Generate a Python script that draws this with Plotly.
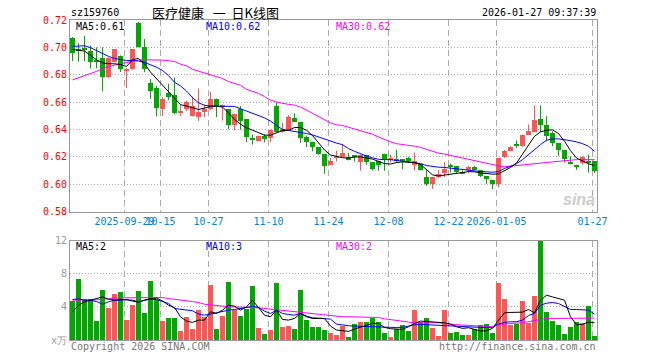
import plotly.graph_objects as go

# ---------------- data ----------------
dates = [
    "2025-09-16", "2025-09-17", "2025-09-18", "2025-09-19", "2025-09-22", "2025-09-23", "2025-09-24", "2025-09-25",
    "2025-09-26", "2025-09-29", "2025-09-30", "2025-10-09", "2025-10-10", "2025-10-13", "2025-10-14", "2025-10-15",
    "2025-10-16", "2025-10-17", "2025-10-20", "2025-10-21", "2025-10-22", "2025-10-23", "2025-10-24", "2025-10-27",
    "2025-10-28", "2025-10-29", "2025-10-30", "2025-10-31", "2025-11-03", "2025-11-04", "2025-11-05", "2025-11-06",
    "2025-11-07", "2025-11-10", "2025-11-11", "2025-11-12", "2025-11-13", "2025-11-14", "2025-11-17", "2025-11-18",
    "2025-11-19", "2025-11-20", "2025-11-21", "2025-11-24", "2025-11-25", "2025-11-26", "2025-11-27", "2025-11-28",
    "2025-12-01", "2025-12-02", "2025-12-03", "2025-12-04", "2025-12-05", "2025-12-08", "2025-12-09", "2025-12-10",
    "2025-12-11", "2025-12-12", "2025-12-15", "2025-12-16", "2025-12-17", "2025-12-18", "2025-12-19", "2025-12-22",
    "2025-12-23", "2025-12-24", "2025-12-25", "2025-12-26", "2025-12-29", "2025-12-30", "2025-12-31", "2026-01-05",
    "2026-01-06", "2026-01-07", "2026-01-08", "2026-01-09", "2026-01-12", "2026-01-13", "2026-01-14", "2026-01-15",
    "2026-01-16", "2026-01-19", "2026-01-20", "2026-01-21", "2026-01-22", "2026-01-23", "2026-01-26", "2026-01-27",
]

opens = [
    0.7070, 0.6978, 0.6990, 0.6975, 0.6897, 0.6920, 0.6781, 0.6893, 0.6937, 0.6828,
    0.6842, 0.7180, 0.7002, 0.6738, 0.6704, 0.6550, 0.6668, 0.6650, 0.6522, 0.6547,
    0.6500, 0.6490, 0.6527, 0.6546, 0.6625, 0.6567, 0.6546, 0.6431, 0.6551, 0.6473,
    0.6328, 0.6313, 0.6355, 0.6338, 0.6571, 0.6388, 0.6399, 0.6485, 0.6456, 0.6348,
    0.6311, 0.6272, 0.6223, 0.6142, 0.6191, 0.6201, 0.6196, 0.6213, 0.6159, 0.6213,
    0.6159, 0.6171, 0.6223, 0.6174, 0.6183, 0.6183, 0.6188, 0.6139, 0.6146, 0.6051,
    0.6002, 0.6051, 0.6085, 0.6141, 0.6134, 0.6090, 0.6100, 0.6122, 0.6105, 0.6056,
    0.6031, 0.6002, 0.6197, 0.6245, 0.6290, 0.6278, 0.6362, 0.6380, 0.6478, 0.6436,
    0.6375, 0.6301, 0.6247, 0.6156, 0.6142, 0.6154, 0.6172, 0.6166,
]
highs = [
    0.7075, 0.7030, 0.7084, 0.7012, 0.7000, 0.7000, 0.6926, 0.6985, 0.6941, 0.6850,
    0.6985, 0.7185, 0.7060, 0.6768, 0.6717, 0.6634, 0.6735, 0.6780, 0.6580, 0.6610,
    0.6640, 0.6699, 0.6583, 0.6676, 0.6625, 0.6583, 0.6546, 0.6510, 0.6571, 0.6473,
    0.6363, 0.6355, 0.6365, 0.6399, 0.6596, 0.6449, 0.6504, 0.6517, 0.6456, 0.6355,
    0.6311, 0.6272, 0.6223, 0.6191, 0.6245, 0.6294, 0.6228, 0.6213, 0.6216, 0.6213,
    0.6159, 0.6172, 0.6223, 0.6216, 0.6251, 0.6183, 0.6200, 0.6232, 0.6146, 0.6104,
    0.6051, 0.6104, 0.6161, 0.6150, 0.6134, 0.6100, 0.6134, 0.6134, 0.6105, 0.6060,
    0.6031, 0.6193, 0.6250, 0.6278, 0.6320, 0.6362, 0.6436, 0.6576, 0.6576, 0.6497,
    0.6387, 0.6301, 0.6247, 0.6203, 0.6142, 0.6203, 0.6215, 0.6166,
]
lows = [
    0.6900, 0.6895, 0.6900, 0.6846, 0.6846, 0.6680, 0.6777, 0.6890, 0.6820, 0.6702,
    0.6836, 0.7000, 0.6818, 0.6624, 0.6495, 0.6498, 0.6613, 0.6510, 0.6497, 0.6535,
    0.6495, 0.6461, 0.6490, 0.6541, 0.6490, 0.6465, 0.6404, 0.6395, 0.6399, 0.6306,
    0.6289, 0.6313, 0.6306, 0.6306, 0.6375, 0.6375, 0.6399, 0.6456, 0.6301, 0.6272,
    0.6240, 0.6215, 0.6076, 0.6142, 0.6166, 0.6196, 0.6174, 0.6166, 0.6098, 0.6142,
    0.6100, 0.6098, 0.6098, 0.6159, 0.6154, 0.6109, 0.6154, 0.6100, 0.6100, 0.5987,
    0.5965, 0.6046, 0.6051, 0.6085, 0.6075, 0.6075, 0.6080, 0.6100, 0.6051, 0.6002,
    0.5965, 0.5977, 0.6192, 0.6245, 0.6265, 0.6274, 0.6362, 0.6380, 0.6380, 0.6313,
    0.6277, 0.6208, 0.6159, 0.6149, 0.6105, 0.6142, 0.6085, 0.6081,
]
closes = [
    0.6960, 0.6974, 0.6982, 0.6893, 0.6894, 0.6783, 0.6922, 0.6985, 0.6843, 0.6832,
    0.6985, 0.7002, 0.6843, 0.6680, 0.6557, 0.6622, 0.6640, 0.6517, 0.6527, 0.6600,
    0.6569, 0.6527, 0.6546, 0.6625, 0.6571, 0.6576, 0.6431, 0.6510, 0.6461, 0.6345,
    0.6325, 0.6355, 0.6331, 0.6394, 0.6380, 0.6400, 0.6490, 0.6456, 0.6336, 0.6306,
    0.6272, 0.6223, 0.6135, 0.6171, 0.6208, 0.6228, 0.6179, 0.6199, 0.6216, 0.6159,
    0.6112, 0.6137, 0.6174, 0.6191, 0.6171, 0.6171, 0.6166, 0.6166, 0.6104, 0.6002,
    0.6051, 0.6075, 0.6114, 0.6129, 0.6092, 0.6080, 0.6122, 0.6105, 0.6056, 0.6036,
    0.6002, 0.6193, 0.6245, 0.6275, 0.6286, 0.6362, 0.6387, 0.6468, 0.6436, 0.6350,
    0.6301, 0.6247, 0.6183, 0.6153, 0.6125, 0.6196, 0.6159, 0.6093,
]
ma5 = [
    0.6985, 0.6980, 0.6973, 0.6941, 0.6909, 0.6887, 0.6880, 0.6880, 0.6875, 0.6860,
    0.6909, 0.6919, 0.6880, 0.6819, 0.6770, 0.6721, 0.6679, 0.6630, 0.6581, 0.6571,
    0.6556, 0.6546, 0.6556, 0.6568, 0.6571, 0.6563, 0.6522, 0.6473, 0.6439, 0.6412,
    0.6395, 0.6375, 0.6358, 0.6358, 0.6375, 0.6392, 0.6394, 0.6414, 0.6414, 0.6394,
    0.6355, 0.6300, 0.6250, 0.6213, 0.6203, 0.6193, 0.6190, 0.6198, 0.6200, 0.6193,
    0.6183, 0.6166, 0.6150, 0.6147, 0.6158, 0.6163, 0.6161, 0.6158, 0.6144, 0.6109,
    0.6068, 0.6060, 0.6065, 0.6075, 0.6080, 0.6085, 0.6092, 0.6090, 0.6082, 0.6075,
    0.6073, 0.6075, 0.6098, 0.6122, 0.6154, 0.6220, 0.6289, 0.6350, 0.6382, 0.6394,
    0.6397, 0.6370, 0.6314, 0.6245, 0.6191, 0.6167, 0.6149, 0.6135,
]
ma10 = [
    0.7007, 0.7010, 0.7012, 0.6998, 0.6978, 0.6953, 0.6934, 0.6919, 0.6909, 0.6904,
    0.6904, 0.6900, 0.6890, 0.6875, 0.6855, 0.6831, 0.6794, 0.6745, 0.6718, 0.6681,
    0.6632, 0.6595, 0.6576, 0.6571, 0.6571, 0.6571, 0.6571, 0.6568, 0.6551, 0.6534,
    0.6522, 0.6502, 0.6485, 0.6461, 0.6429, 0.6400, 0.6393, 0.6387, 0.6380, 0.6370,
    0.6360, 0.6345, 0.6330, 0.6313, 0.6300, 0.6289, 0.6260, 0.6240, 0.6220, 0.6205,
    0.6192, 0.6182, 0.6179, 0.6179, 0.6173, 0.6168, 0.6163, 0.6158, 0.6151, 0.6136,
    0.6129, 0.6124, 0.6122, 0.6117, 0.6112, 0.6104, 0.6100, 0.6097, 0.6092, 0.6090,
    0.6087, 0.6092, 0.6115, 0.6130, 0.6149, 0.6179, 0.6216, 0.6257, 0.6289, 0.6321,
    0.6331, 0.6331, 0.6326, 0.6318, 0.6309, 0.6296, 0.6277, 0.6240,
]
ma30 = [
    0.6762, 0.6777, 0.6792, 0.6806, 0.6824, 0.6843, 0.6860, 0.6870, 0.6880, 0.6890,
    0.6900, 0.6907, 0.6909, 0.6909, 0.6909, 0.6907, 0.6902, 0.6897, 0.6877, 0.6865,
    0.6840, 0.6826, 0.6816, 0.6801, 0.6787, 0.6772, 0.6750, 0.6738, 0.6723, 0.6693,
    0.6676, 0.6664, 0.6640, 0.6615, 0.6600, 0.6590, 0.6583, 0.6578, 0.6563, 0.6541,
    0.6517, 0.6490, 0.6470, 0.6448, 0.6434, 0.6429, 0.6416, 0.6404, 0.6392, 0.6380,
    0.6365, 0.6345, 0.6326, 0.6309, 0.6296, 0.6288, 0.6283, 0.6278, 0.6269, 0.6254,
    0.6239, 0.6227, 0.6220, 0.6210, 0.6202, 0.6193, 0.6183, 0.6171, 0.6161, 0.6151,
    0.6141, 0.6134, 0.6127, 0.6132, 0.6137, 0.6142, 0.6147, 0.6149, 0.6154, 0.6159,
    0.6164, 0.6167, 0.6171, 0.6176, 0.6179, 0.6179, 0.6179, 0.6179,
]
volumes = [  # 万手
    4.8, 7.44, 5.0, 5.0, 2.4, 6.08, 3.88, 5.6, 5.88, 2.52,
    4.32, 6.0, 3.36, 7.2, 4.92, 2.4, 2.72, 2.72, 1.2, 2.88,
    1.44, 3.72, 2.8, 6.72, 1.44, 3.0, 7.08, 3.72, 3.0, 3.8,
    6.6, 1.56, 0.84, 1.32, 6.96, 1.68, 1.8, 1.44, 6.04, 2.52,
    1.64, 1.68, 1.32, 0.88, 0.72, 1.8, 0.4, 2.0, 2.28, 2.28,
    2.68, 2.2, 0.96, 0.4, 1.36, 1.92, 1.2, 3.72, 2.28, 2.76,
    1.48, 0.6, 3.64, 0.96, 1.08, 0.72, 0.72, 1.36, 1.92, 2.04,
    0.96, 6.88, 5.04, 1.92, 2.04, 4.8, 2.16, 5.4, 12.0, 3.48,
    2.4, 1.92, 0.84, 1.68, 2.28, 2.16, 4.2, 0.6,
]
vol_ma5 = [
    3.4, 4.2, 4.6, 4.8, 5.0, 5.2, 4.92, 4.8, 4.88, 4.88,
    4.8, 4.6, 4.8, 5.0, 5.04, 4.72, 4.2, 3.92, 2.8, 2.28,
    2.12, 2.4, 2.4, 3.4, 3.2, 3.6, 4.2, 4.08, 3.6, 4.0,
    4.8, 3.92, 3.0, 2.8, 3.6, 2.48, 2.4, 2.6, 3.2, 2.8,
    2.6, 2.6, 2.6, 1.68, 1.2, 1.12, 1.04, 1.32, 1.52, 1.8,
    2.0, 2.0, 1.52, 1.36, 1.28, 1.28, 1.6, 2.0, 2.28, 2.24,
    2.16, 2.08, 2.08, 1.92, 1.6, 1.4, 1.48, 1.28, 1.08, 1.12,
    1.4, 2.4, 3.28, 3.32, 3.32, 3.36, 3.68, 3.28, 4.8, 5.4,
    5.2, 5.04, 4.8, 2.8, 1.84, 1.88, 2.16, 2.08,
]
vol_ma10 = [
    4.88, 4.96, 4.8, 4.8, 4.64, 4.32, 4.6, 4.8, 4.8, 4.88,
    4.68, 4.56, 4.8, 4.92, 4.88, 4.64, 4.4, 3.8, 3.68, 3.6,
    3.52, 3.12, 3.0, 3.12, 3.28, 3.48, 3.6, 3.68, 3.76, 3.92,
    4.08, 3.92, 3.48, 3.2, 3.6, 3.2, 3.08, 3.0, 3.2, 2.88,
    2.68, 2.6, 2.56, 2.52, 1.92, 1.8, 1.72, 1.68, 1.64, 1.6,
    1.6, 1.6, 1.56, 1.52, 1.52, 1.52, 1.68, 1.84, 1.88, 1.84,
    1.76, 1.72, 1.68, 1.64, 1.6, 1.6, 1.6, 1.56, 1.52, 1.52,
    1.52, 1.92, 2.12, 2.2, 2.2, 2.4, 2.96, 3.2, 4.2, 4.44,
    4.52, 4.4, 4.0, 3.68, 3.68, 3.68, 3.6, 3.12,
]
vol_ma30 = [
    4.8, 4.84, 4.84, 4.84, 4.84, 4.88, 4.96, 5.08, 5.08, 5.08,
    5.08, 5.08, 5.08, 5.12, 5.12, 5.12, 5.0, 4.92, 4.88, 4.8,
    4.64, 4.52, 4.32, 4.24, 4.12, 4.08, 4.0, 4.0, 4.0, 4.0,
    3.92, 3.88, 3.8, 3.76, 3.72, 3.6, 3.52, 3.44, 3.4, 3.32,
    3.24, 3.16, 3.08, 3.0, 2.88, 2.8, 2.8, 2.8, 2.8, 2.8,
    2.8, 2.72, 2.56, 2.44, 2.36, 2.24, 2.16, 2.08, 2.08, 2.08,
    2.08, 2.08, 1.96, 1.88, 1.84, 1.8, 1.76, 1.72, 1.68, 1.64,
    1.6, 1.88, 1.96, 2.0, 2.04, 2.08, 2.2, 2.32, 2.48, 2.6,
    2.6, 2.6, 2.6, 2.6, 2.6, 2.6, 2.68, 2.64,
]
tick_dates = ["2025-09-29", "2025-10-15", "2025-10-27", "2025-11-10", "2025-11-24",
              "2025-12-08", "2025-12-22", "2026-01-05", "2026-01-27"]
tick_labels = ["2025-09-29", "10-15", "10-27", "11-10", "11-24", "12-08", "12-22", "2026-01-05", "01-27"]
price_ticks = [0.58, 0.60, 0.62, 0.64, 0.66, 0.68, 0.70, 0.72]
vol_ticks = [0, 4, 8, 12]
vol_tick_labels = ["x万", "4", "8", "12"]

# ---------------- styling ----------------
W, H = 660, 360
L, R, T, B = 70, 63, 20, 20
UP = "#ff5555"
DOWN = "#00a800"
MONO = "DejaVu Sans Mono"
GRIDC = "#aaaaaa"
BORDER = "#999999"

x = list(range(len(dates)))
xr = [-2.5 / 6, 524.5 / 6]          # 6 px per trading day
grid_x = [dates.index(d) - 1 / 3 for d in tick_dates]


def px(v):
    return (v - L) / (W - L - R)


def py(v):
    return (H - B - v) / (H - T - B)


is_up = [c > o for o, c in zip(opens, closes)]
MIN_BODY = 0.00074

fig = go.Figure()

for flag, col in ((True, UP), (False, DOWN)):
    idx = [i for i in x if is_up[i] == flag]
    fig.add_trace(go.Bar(
        x=idx,
        base=[min(opens[i], closes[i]) for i in idx],
        y=[max(abs(closes[i] - opens[i]), MIN_BODY) for i in idx],
        width=5 / 6, marker=dict(color=col, line=dict(width=0)),
        xaxis="x", yaxis="y", hoverinfo="skip"))
    wx, wy = [], []
    for i in idx:
        wx += [i, i, None]
        wy += [lows[i], highs[i], None]
    fig.add_trace(go.Scatter(x=wx, y=wy, mode="lines", line=dict(color=col, width=1),
                             xaxis="x", yaxis="y", hoverinfo="skip"))

for series, col in ((ma30, "#ff00ff"), (ma10, "#0000ff"), (ma5, "#000000")):
    fig.add_trace(go.Scatter(x=x, y=series, mode="lines", line=dict(color=col, width=1),
                             xaxis="x", yaxis="y", hoverinfo="skip"))

fig.add_trace(go.Bar(x=x, y=volumes, width=5 / 6,
                     marker=dict(color=[UP if u else DOWN for u in is_up], line=dict(width=0)),
                     xaxis="x2", yaxis="y2", hoverinfo="skip"))
for series, col in ((vol_ma30, "#ff00ff"), (vol_ma10, "#0000ff"), (vol_ma5, "#000000")):
    fig.add_trace(go.Scatter(x=x, y=series, mode="lines", line=dict(color=col, width=1),
                             xaxis="x2", yaxis="y2", hoverinfo="skip"))

axis_common = dict(showline=True, linecolor=BORDER, linewidth=1, mirror=True,
                   zeroline=False, ticks="", fixedrange=True)

fig.update_layout(
    width=W, height=H, margin=dict(l=L, r=R, t=T, b=B, pad=0),
    paper_bgcolor="white", plot_bgcolor="white",
    showlegend=False, barmode="overlay", bargap=0, hovermode=False,
    font=dict(family=MONO, size=10, color="#000"),
    xaxis=dict(domain=[0, 1], anchor="y", range=xr, tickmode="array",
               tickvals=grid_x, ticktext=tick_labels, tickangle=0,
               tickfont=dict(family=MONO, size=10, color="#0a80d0"),
               showgrid=True, gridcolor=GRIDC, griddash="6px,4px", gridwidth=1,
               **axis_common),
    yaxis=dict(domain=[py(211.5), 1], anchor="x", range=[0.58, 0.72], tickmode="array",
               tickvals=price_ticks, ticktext=["%.2f" % v for v in price_ticks],
               tickfont=dict(family=MONO, size=10, color="#ff0000"),
               showgrid=True, gridcolor=GRIDC, griddash="1px,2px", gridwidth=1,
               **axis_common),
    xaxis2=dict(domain=[0, 1], anchor="y2", range=xr, tickmode="array",
                tickvals=grid_x, showticklabels=False,
                showgrid=True, gridcolor=GRIDC, griddash="6px,4px", gridwidth=1,
                **axis_common),
    yaxis2=dict(domain=[0, py(240.5)], anchor="x2", range=[0, 12], tickmode="array",
                tickvals=vol_ticks, ticktext=vol_tick_labels,
                tickfont=dict(family=MONO, size=10, color="#999999"),
                showgrid=True, gridcolor=GRIDC, griddash="1px,2px", gridwidth=1,
                **axis_common),
)


def note(text, xp, yp, color="#000", anchor="left", size=10, family=MONO, **kw):
    fig.add_annotation(text=text, x=px(xp), y=py(yp), xref="paper", yref="paper",
                       xanchor=anchor, yanchor="middle", showarrow=False,
                       font=dict(family=family, size=size, color=color), **kw)


NB = "\u00a0"
note("sz159760", 69, 13)
note("医疗健康" + NB * 3 + "一" + NB * 2 + "日K线图", 150, 12, size=13, family="Noto Sans CJK SC")
note("2026-01-27 09:37:39", 598, 13, anchor="right")
note("MA5:%.2f" % ma5[-1], 74, 26)
note("MA10:%.2f" % ma10[-1], 204, 26, color="#0000ff")
note("MA30:%.2f" % ma30[-1], 334, 26, color="#ff00ff")
note("MA5:%d" % int(vol_ma5[-1]), 74, 246)
note("MA10:%d" % int(vol_ma10[-1]), 204, 246, color="#0000ff")
note("MA30:%d" % int(vol_ma30[-1]), 334, 246, color="#ff00ff")
note("Copyright 2026 SINA.COM", 69, 346, color="#777777")
note("http://finance.sina.com.cn", 598, 346, color="#777777", anchor="right")
note("<b><i>sina</i></b>", 597, 199, color="#cccccc", anchor="right", size=16, family="Liberation Sans")

fig.write_html("out.html", config={"displayModeBar": False},
               post_script="document.body.style.margin='0';document.body.style.overflow='hidden';")
